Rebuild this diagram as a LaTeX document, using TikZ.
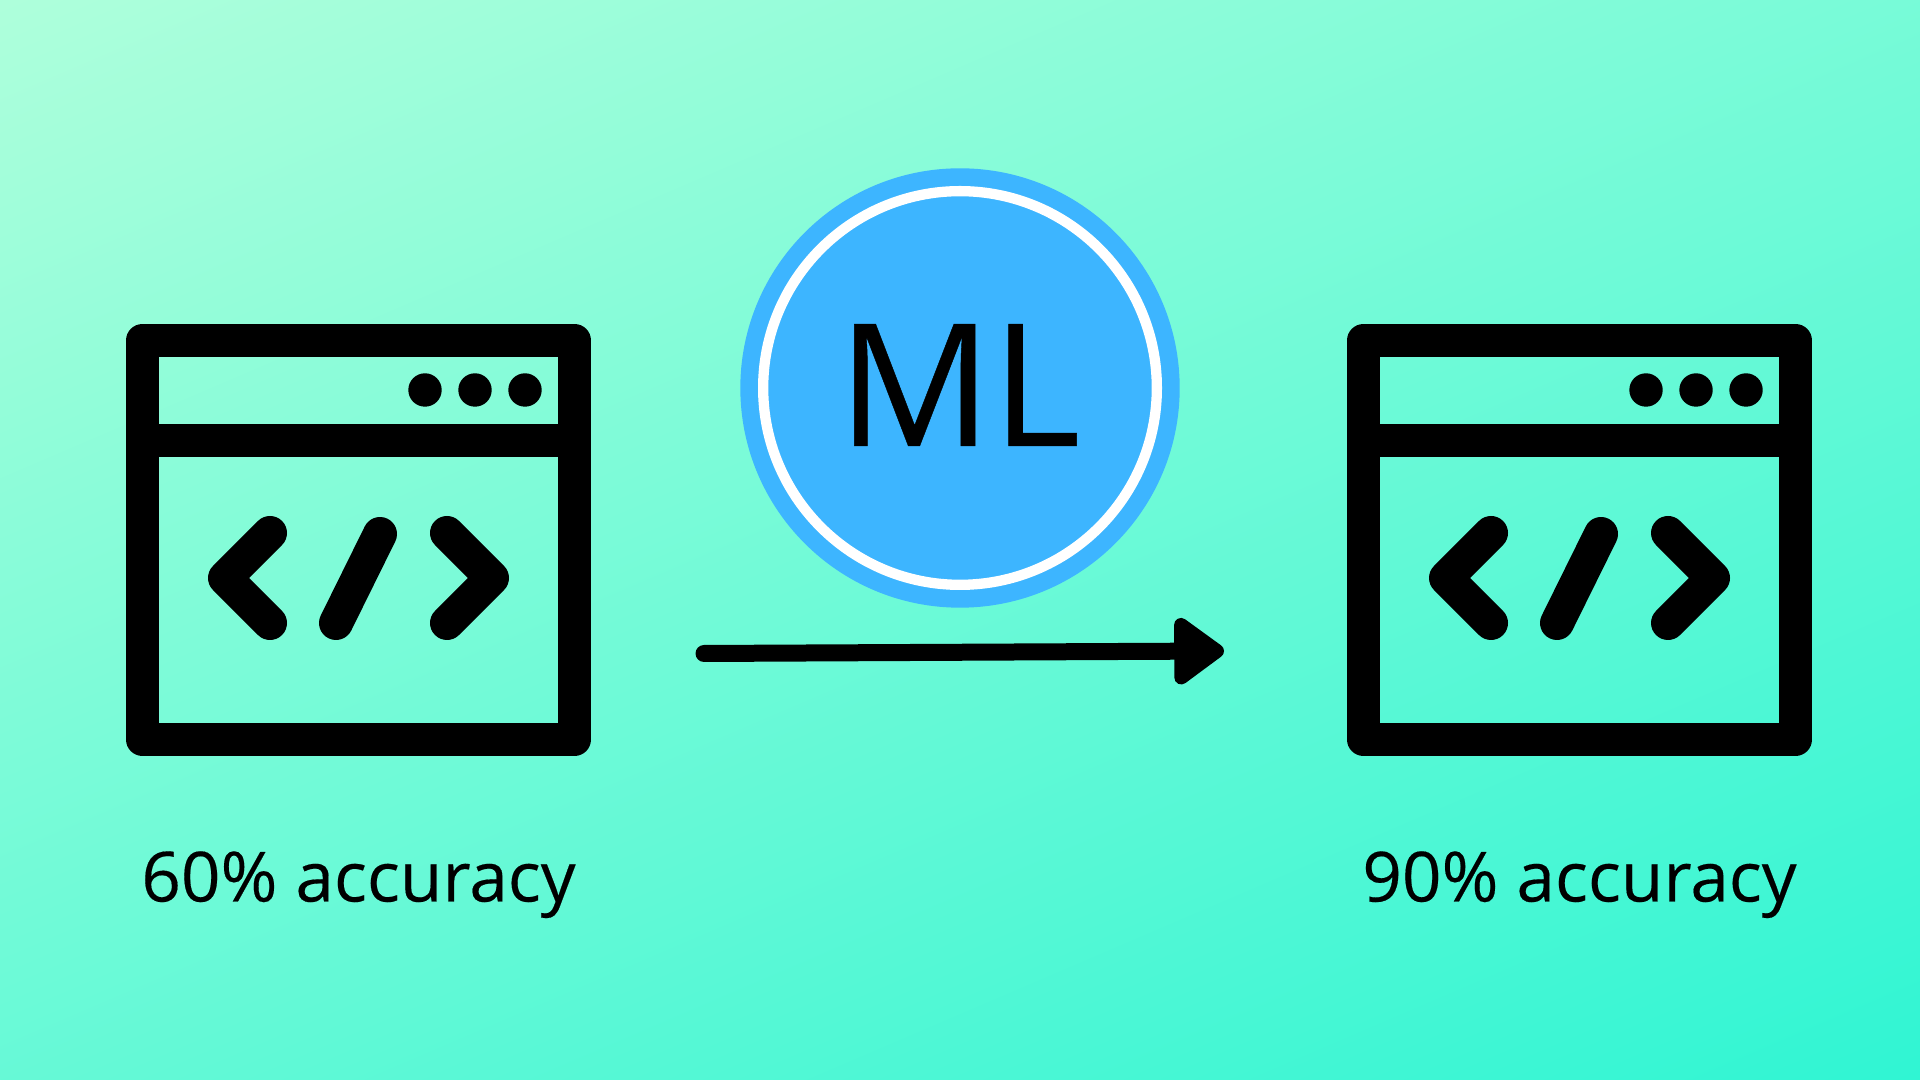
\documentclass[tikz,border=0pt]{standalone}
\usepackage{fontspec}
\setmainfont[FakeBold=0.25]{Open Sans}
\usetikzlibrary{arrows.meta}
\definecolor{bgstart}{HTML}{AEFFDB}
\definecolor{bgend}{HTML}{30F5D3}
\definecolor{mlblue}{HTML}{3DB5FF}
\pgfdeclarehorizontalshading{bgshade}{100bp}{color(0bp)=(bgstart); color(17.17bp)=(bgstart); color(82.83bp)=(bgend); color(100bp)=(bgend)}
\tikzset{
    pane/.style={draw=black, line width=3.3mm, line join=round},
    rule/.style={draw=black, line width=3.3mm},
    glyph/.style={draw=black, line width=3.4mm, line cap=round, line join=round},
    dot/.style={circle, fill=black, inner sep=0pt, minimum size=3.34mm},
    caption/.style={font=\fontsize{19.7}{24}\selectfont, inner sep=0pt, anchor=base},
    arrow/.style={line width=1.7mm, line cap=round, -{Triangle[length=5.5mm, width=7.6mm, line width=1.4mm, round]}}
}
% one browser window, shifted by #1
\newcommand{\codewindow}[2]{
    \draw[pane] (#1+1.425, 7.395) rectangle (#1+5.745, 3.405);
    \draw[rule] (#1+1.425, 6.39) -- (#1+5.745, 6.39);
    \foreach \dotx [count=\doti] in {4.25, 4.75, 5.25} {
        \node[dot] (#2dot\doti) at (#1+\dotx, 6.90) {};
    }
    \draw[glyph] (#1+2.70, 5.47) -- (#1+2.25, 5.02) -- (#1+2.70, 4.57);
    \draw[glyph] (#1+3.80, 5.46) -- (#1+3.36, 4.57);
    \draw[glyph] (#1+4.47, 5.47) -- (#1+4.92, 5.02) -- (#1+4.47, 4.57);
}
\begin{document}
\begin{tikzpicture}
    % Background
    \shade[shading=bgshade, shading angle=-66.8] (0,0) rectangle (19.2,10.8);

    % Windows
    \codewindow{0}{old}
    \codewindow{12.21}{new}

    % Model
    \node[circle, fill=mlblue, inner sep=0pt, minimum size=4.394cm] (disc) at (9.6,6.92) {};
    \node[circle, draw=white, line width=1.03mm, inner sep=0pt, minimum size=3.937cm] (ring) at (disc.center) {};
    \node[font=\fontsize{48.6}{56}\selectfont, inner sep=0pt, anchor=base] (ml) at (9.59,6.34) {ML};

    % Labels
    \node[caption] (before) at (3.585,1.785) {60\% accuracy};
    \node[caption] (after) at (15.795,1.785) {90\% accuracy};

    % Path
    \coordinate (start) at (7.04,4.265);
    \coordinate (end) at (12.24,4.29);
    \draw[arrow] (start) -- (end);
\end{tikzpicture}
\end{document}
